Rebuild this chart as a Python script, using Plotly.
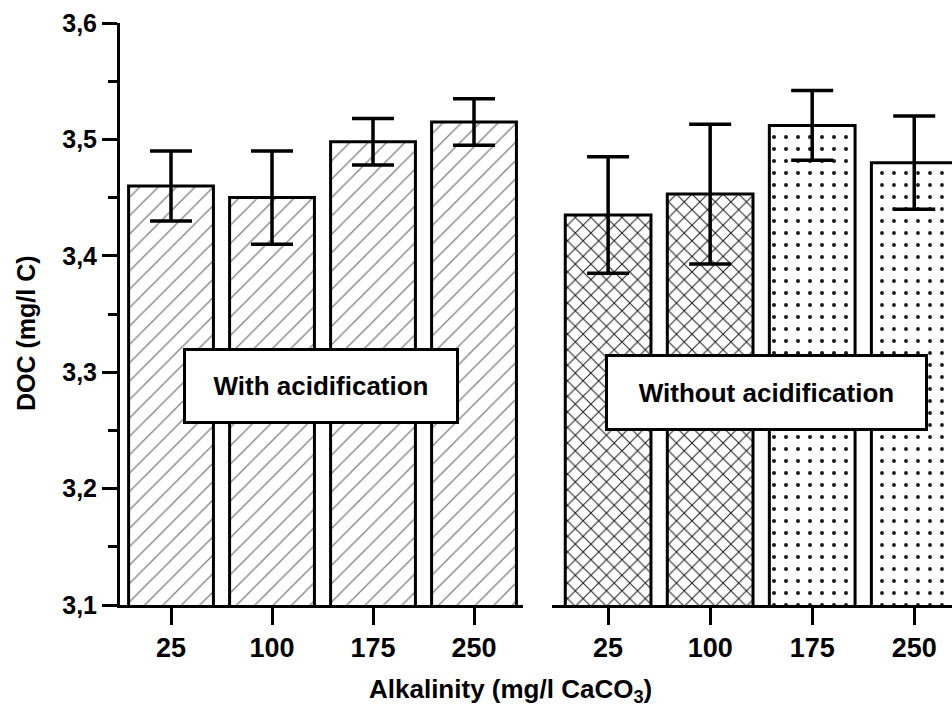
import plotly.graph_objects as go

# DOC measured at four alkalinity levels, with and without acidification
alkalinity = ["25", "100", "175", "250"]
doc_with_acid = [3.46, 3.45, 3.498, 3.515]
err_with_acid = [0.03, 0.04, 0.02, 0.02]
doc_without_acid = [3.435, 3.453, 3.512, 3.48]
err_without_acid = [0.05, 0.06, 0.03, 0.04]

W, H = 952, 718
FONT = "Liberation Sans, Arial, sans-serif"


def px_x(p):
    return p / W


def px_y(p):
    return 1 - p / H


fig = go.Figure()

fig.add_trace(go.Bar(
    x=alkalinity, y=doc_with_acid, xaxis="x", yaxis="y",
    error_y=dict(type="data", array=err_with_acid, visible=True,
                 color="black", thickness=3.5, width=21),
    marker=dict(color="white", line=dict(color="black", width=3),
                pattern=dict(shape="/", size=13, solidity=0.1,
                             fgcolor="black", bgcolor="white", fgopacity=0.5)),
    showlegend=False,
))

fig.add_trace(go.Bar(
    x=alkalinity, y=doc_without_acid, xaxis="x2", yaxis="y",
    error_y=dict(type="data", array=err_without_acid, visible=True,
                 color="black", thickness=3.5, width=21),
    marker=dict(color="white", line=dict(color="black", width=3),
                pattern=dict(shape=["x", "x", ".", "."], size=[11, 11, 12, 12],
                             solidity=[0.17, 0.17, 0.09, 0.08],
                             fgcolor="black", bgcolor="white", fgopacity=0.9)),
    showlegend=False,
))

axis_common = dict(
    type="category", showline=True, linecolor="black", linewidth=3,
    ticks="outside", ticklen=17, tickwidth=3, tickcolor="black",
    showgrid=False, zeroline=False, automargin=False,
    tickfont=dict(family=FONT, size=27, color="black", weight="bold"),
    anchor="y",
)

fig.update_layout(
    width=W, height=H,
    margin=dict(l=0, r=0, t=0, b=0, pad=0),
    paper_bgcolor="white", plot_bgcolor="white",
    separators=",.",
    bargap=0.16,
    xaxis=dict(domain=[px_x(120), px_x(523)], range=[-0.505, 3.485], **axis_common),
    xaxis2=dict(domain=[px_x(552), 1.0], range=[-0.55, 3.37], **axis_common),
    yaxis=dict(
        domain=[px_y(605), px_y(23)], range=[3.1, 3.6],
        tickvals=[3.1, 3.2, 3.3, 3.4, 3.5, 3.6], tickformat=".1f",
        showline=True, linecolor="black", linewidth=3,
        ticks="outside", ticklen=15, tickwidth=3, tickcolor="black",
        minor=dict(dtick=0.05, ticks="outside", ticklen=9, tickwidth=3, tickcolor="black"),
        showgrid=False, zeroline=False, anchor="x", automargin=False,
        tickfont=dict(family=FONT, size=25, color="black", weight="bold"),
    ),
)

box_font = dict(family=FONT, size=26, color="black", weight="bold")
fig.add_annotation(
    x=px_x(321), y=px_y(386), xref="paper", yref="paper",
    text="With acidification", showarrow=False, font=box_font,
    bgcolor="white", bordercolor="black", borderwidth=3, borderpad=0,
    width=270, height=70, xanchor="center", yanchor="middle",
)
fig.add_annotation(
    x=px_x(766), y=px_y(393), xref="paper", yref="paper",
    text="Without acidification", showarrow=False, font=box_font,
    bgcolor="white", bordercolor="black", borderwidth=3, borderpad=0,
    width=317, height=71, xanchor="center", yanchor="middle",
)

# Axis titles
fig.add_annotation(
    x=px_x(510), y=px_y(690), xref="paper", yref="paper",
    text="Alkalinity (mg/l CaCO<sub>3</sub>)", showarrow=False,
    font=dict(family=FONT, size=26, color="black", weight="bold"),
    xanchor="center", yanchor="middle",
)
fig.add_annotation(
    x=px_x(26), y=px_y(333), xref="paper", yref="paper",
    text="DOC (mg/l C)", showarrow=False, textangle=-90,
    font=dict(family=FONT, size=25, color="black", weight="bold"),
    xanchor="center", yanchor="middle",
)

fig.write_html("out.html")
